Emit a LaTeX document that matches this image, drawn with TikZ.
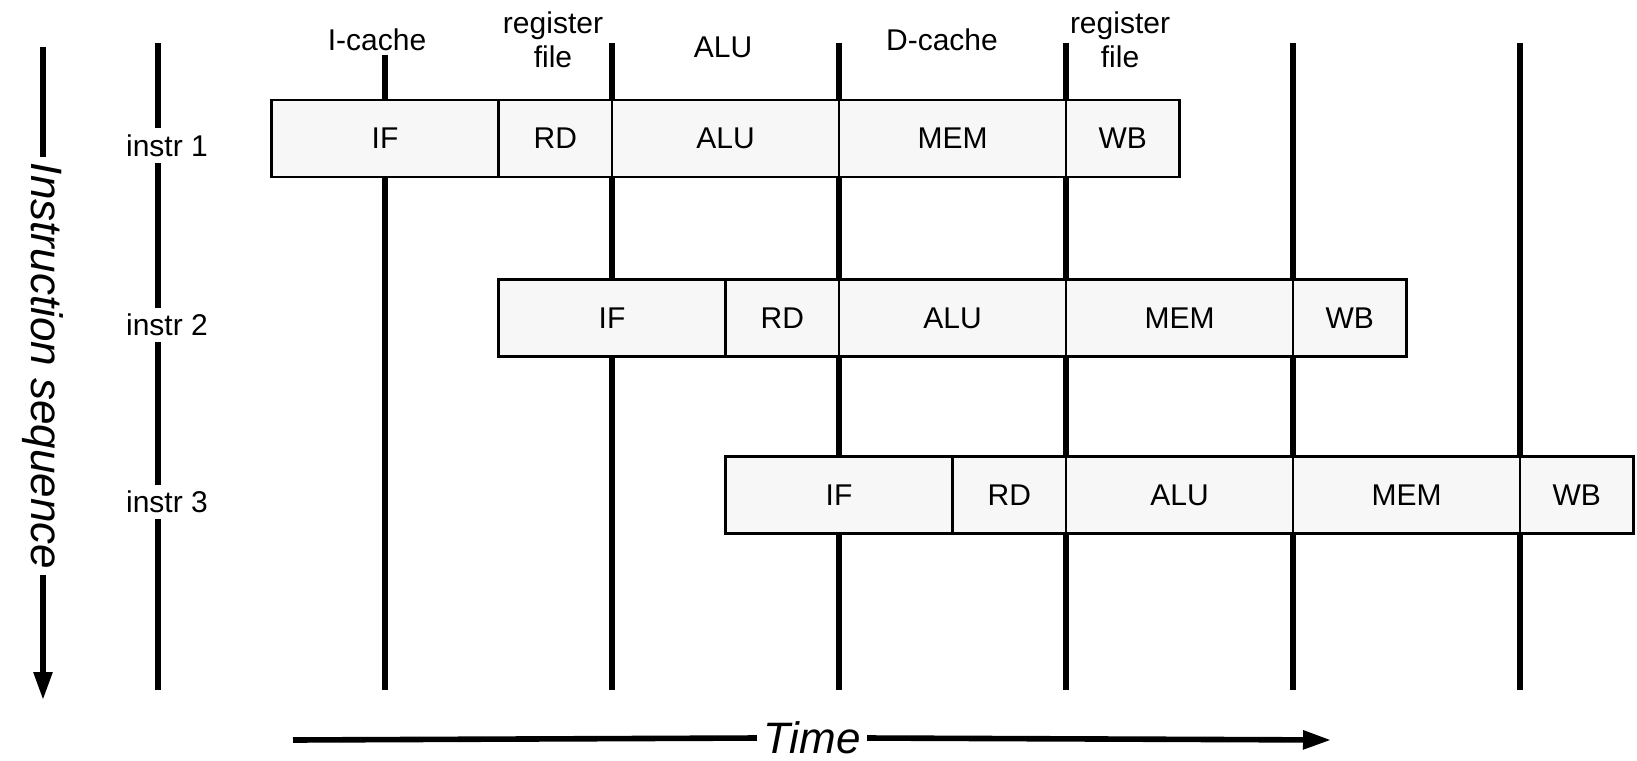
\documentclass[tikz,border=0pt]{standalone}
\usepackage{fontspec}
\setmainfont{Liberation Sans}
\usetikzlibrary{arrows.meta}

\tikzset{
  clockline/.style={black, line width=2.6pt},
  axisline/.style={black, line width=2.8pt},
  stagebox/.style={draw, line width=1.2pt, fill=black!3, inner sep=0pt, outer sep=0pt,
    minimum height=38.5pt, font=\fontsize{15}{17}\selectfont},
  rowlbl/.style={fill=white, inner sep=3pt, font=\fontsize{15}{17}\selectfont},
  unitlbl/.style={inner sep=2pt, align=center, font=\fontsize{15}{17}\selectfont},
  axislbl/.style={inner sep=3pt, font=\fontsize{22}{24}\selectfont\itshape},
}

\begin{document}
\begin{tikzpicture}[x=0.5pt, y=-0.5pt]
	\useasboundingbox (0,0) rectangle (1637,760);
	% clock edges
	\foreach \k in {0,...,6}
		\draw[clockline] ({158+227*\k},43) -- ({158+227*\k},690);
	% pipeline stages, one row per instruction
	\foreach \r/\y in {1/138.5, 2/318, 3/495} {
		\foreach \st/\c/\w in {IF/1.0/227, RD/1.75/113.5, ALU/2.5/227, MEM/3.5/227, WB/4.25/113.5}
			\node[stagebox, minimum width={\w*0.5pt}] (\st-\r) at ({158+227*(\c+\r-1)},\y) {\st};
		\node[rowlbl] (instr\r) at (167,{\y+7}) {instr \r};
	}
	% units used by each stage
	\node[unitlbl, fill=white] (icache) at (377,40) {I-cache};
	\node[unitlbl] (regfile1) at (553,40) {register\\file};
	\node[unitlbl] (alu) at (723,47) {ALU};
	\node[unitlbl] (dcache) at (942,40) {D-cache};
	\node[unitlbl] (regfile2) at (1120,40) {register\\file};
	% axes
	\coordinate (seqtop) at (43,47);
	\coordinate (seqend) at (43,700);
	\node[axislbl, rotate=-90] (seq) at (43,366) {Instruction sequence};
	\draw[axisline] (seqtop) -- (seq.west);
	\draw[axisline, -{Triangle[length=14pt, width=9pt]}] (seq.east) -- (seqend);
	\coordinate (timestart) at (293,740);
	\coordinate (timeend) at (1331,740);
	\node[axislbl] (time) at (812,738) {Time};
	\draw[axisline] (timestart) -- (time.west);
	\draw[axisline, -{Triangle[length=14pt, width=9pt]}] (time.east) -- (timeend);
\end{tikzpicture}
\end{document}
